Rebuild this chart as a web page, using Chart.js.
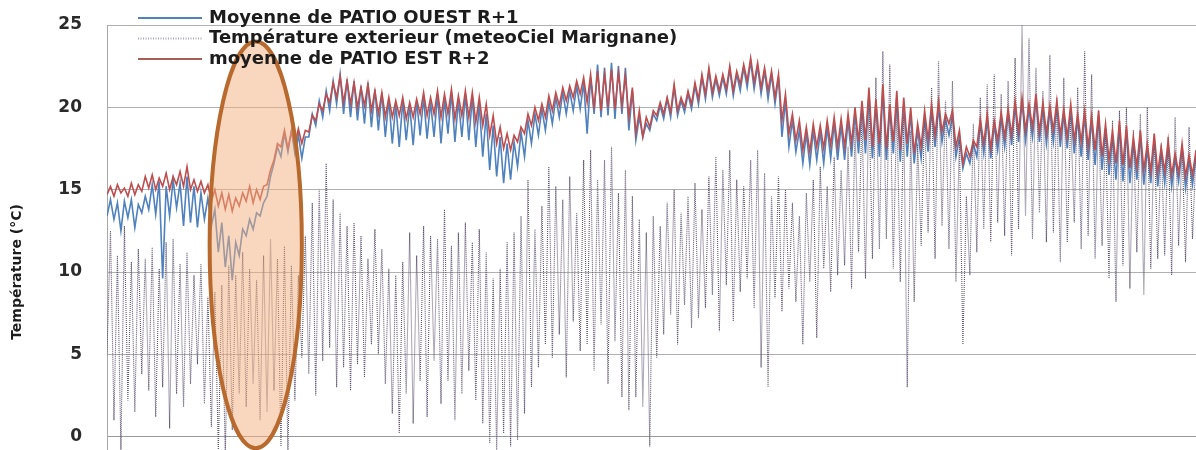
<!DOCTYPE html>
<html>
<head>
<meta charset="utf-8">
<script src="https://cdn.jsdelivr.net/npm/chart.js@4/dist/chart.umd.min.js"></script>
<style>
  html, body { margin: 0; padding: 0; background: #ffffff; overflow: hidden; }
  #wrap { position: relative; width: 1196px; height: 540px; }
</style>
</head>
<body>
<div id="wrap"><canvas id="c" width="1196" height="540"></canvas></div>
<script>
// Series names as shown in the legend
const seriesNames = [
  'Moyenne de PATIO OUEST R+1',
  'Température exterieur (meteoCiel Marignane)',
  'moyenne de PATIO EST R+2'
];

// Y axis ticks (°C)
const yTicks = [-5, 0, 5, 10, 15, 20, 25];

// PATIO OUEST R+1 : daily highs / lows (°C)
const ouestHigh = [
  14.4, 14.2, 14.3, 14.4, 14.1, 14.6, 15.3, 15.5, 15.2, 15.6,
  15.4, 15.8, 15.2, 14.8, 14.5, 13.8, 13.0, 12.2, 11.8, 12.6,
  13.2, 13.6, 14.2, 15.8, 17.6, 18.4, 18.6, 18.3, 18.2, 19.6,
  20.4, 21.0, 21.6, 22.0, 21.7, 21.6, 21.3, 21.5, 21.1, 20.9,
  20.5, 20.2, 20.4, 20.1, 20.4, 20.6, 20.3, 20.8, 20.5, 20.9,
  20.4, 20.8, 20.6, 20.2, 19.6, 18.9, 18.2, 17.8, 17.9, 18.5,
  19.2, 19.6, 19.9, 20.3, 20.6, 20.9, 21.0, 21.3, 21.5, 21.8,
  22.6, 22.4, 22.7, 22.5, 22.4, 21.0, 19.4, 19.0, 19.6, 20.1,
  20.5, 21.2, 20.4, 20.8, 21.3, 21.8, 22.2, 21.7, 21.8, 22.3,
  22.0, 22.4, 22.8, 22.5, 22.2, 22.0, 21.8, 20.4, 19.2, 18.6,
  18.4, 18.6, 18.5, 18.8, 19.0, 18.9, 19.2, 19.6, 20.0, 20.8,
  20.2, 21.0, 19.8, 20.6, 20.2, 19.6, 18.6, 19.4, 19.8, 20.0,
  19.3, 19.5, 18.2, 17.2, 17.8, 19.0, 19.3, 18.9, 19.4, 19.6,
  20.1, 20.3, 19.9, 20.5, 20.0, 19.8, 20.1, 19.6, 19.9, 19.3,
  19.5, 19.2, 19.5, 18.7, 18.3, 18.9, 18.6, 17.9, 18.3, 17.5,
  18.1, 17.3, 17.6, 16.9, 17.5, 16.8, 17.1
];
const ouestLow = [
  13.4, 13.2, 12.5, 13.3, 12.7, 13.6, 13.8, 13.5, 9.6, 13.4,
  13.9, 12.8, 13.0, 12.7, 13.2, 12.8, 11.2, 10.3, 9.5, 11.0,
  12.2, 12.6, 13.4, 14.6, 16.6, 17.0, 17.3, 17.2, 16.9, 18.2,
  18.9, 19.4, 19.8, 20.2, 19.6, 19.4, 19.2, 19.0, 18.8, 18.6,
  18.2, 17.8, 17.6, 18.0, 17.7, 18.3, 18.1, 18.2, 17.8, 18.4,
  17.9, 18.2, 18.0, 17.6, 17.0, 16.2, 15.8, 15.4, 15.6, 16.4,
  17.0, 17.8, 18.3, 18.6, 19.0, 19.4, 19.6, 19.8, 19.9, 18.4,
  19.6, 19.4, 19.5, 19.3, 19.6, 18.6, 18.0, 18.2, 18.6, 19.2,
  19.3, 19.4, 19.5, 19.7, 19.9, 20.2, 20.5, 20.6, 20.7, 20.8,
  20.7, 21.0, 21.2, 21.1, 20.8, 20.5, 20.2, 18.2, 17.6, 17.3,
  16.6, 16.5, 16.8, 16.6, 16.9, 16.8, 16.8, 17.0, 17.2, 17.2,
  16.9, 17.0, 16.8, 17.2, 16.7, 17.0, 16.6, 16.9, 17.3, 17.6,
  17.9, 18.3, 17.0, 16.3, 16.6, 17.0, 17.2, 16.9, 17.4, 17.6,
  17.7, 17.9, 18.0, 18.2, 17.9, 17.8, 17.9, 17.6, 17.5, 17.2,
  17.0, 16.8, 16.5, 16.2, 15.9, 15.6, 15.5, 15.4, 15.6, 15.3,
  15.4, 15.2, 15.4, 15.2, 15.5, 15.1, 15.3
];

// Outdoor temperature (meteoCiel Marignane) : daily highs / lows (°C)
const exterieurHigh = [
  12.5, 11.0, 12.8, 10.6, 11.4, 10.8, 11.5, 10.2, 11.8, 12.0,
  10.5, 11.2, 9.8, 10.5, 8.5, 8.8, 9.2, 10.4, 9.8, 11.2,
  10.2, 9.5, 11.0, 12.0, 10.8, 11.6, 10.4, 9.8, 12.2, 14.2,
  15.0, 16.6, 14.4, 13.6, 12.8, 13.0, 12.2, 10.8, 12.6, 11.4,
  10.2, 9.8, 10.6, 12.4, 11.0, 12.8, 12.2, 12.0, 13.8, 11.6,
  12.4, 13.0, 11.8, 12.6, 11.2, 9.6, 10.2, 11.8, 12.4, 13.4,
  15.6, 12.6, 14.0, 16.4, 15.2, 14.4, 15.8, 13.6, 16.8, 17.4,
  15.6, 16.8, 17.6, 14.8, 16.2, 14.6, 13.2, 12.4, 13.4, 12.8,
  14.2, 15.0, 13.6, 14.6, 15.4, 13.8, 15.8, 17.0, 16.2, 17.4,
  15.6, 15.2, 16.8, 17.4, 16.0, 14.6, 15.8, 15.0, 14.2, 13.4,
  14.8, 15.6, 16.4, 15.2, 17.0, 16.2, 17.6, 18.8, 19.6, 20.4,
  21.8, 23.4, 22.6, 20.2, 19.4, 18.6, 17.8, 19.6, 21.2, 22.8,
  20.4, 21.6, 18.0, 14.6, 19.0, 20.6, 21.4, 22.0, 20.8, 21.6,
  23.0, 25.0, 24.2, 22.4, 21.0, 23.2, 20.6, 21.8, 19.4, 21.2,
  23.4, 22.0, 19.8, 18.6, 19.2, 19.8, 20.0, 18.6, 19.6, 20.0,
  18.4, 17.8, 18.2, 19.4, 17.6, 18.8, 17.4
];
const exterieurLow = [
  5.0, 1.0, -0.8, 2.2, 1.5, 3.8, 2.8, 1.2, 3.0, 0.5,
  2.6, 1.8, 3.2, 4.4, 2.0, 0.6, -0.9, -1.2, 0.4, 2.6,
  1.8, 3.2, 1.0, 1.5, 2.8, -0.6, -1.0, 2.2, 4.8, 3.8,
  2.5, 4.6, 5.4, 3.0, 4.2, 2.8, 4.4, 3.6, 5.6, 5.0,
  3.2, 1.4, 0.2, 2.6, 0.8, 3.4, 1.2, 4.6, 2.0, 3.4,
  1.0, 2.6, 4.0, 2.2, 0.8, -0.4, -0.8, 0.2, -0.6, -0.2,
  1.4, 3.0, 4.2, 5.6, 4.8, 6.2, 3.6, 7.0, 5.2, 5.6,
  4.0, 6.8, 3.2, 5.8, 2.4, 1.6, 2.4, 1.8, -0.6, 4.8,
  6.2, 7.4, 5.6, 8.0, 6.6, 7.2, 7.8, 8.6, 6.4, 9.2,
  7.0, 8.8, 9.6, 7.8, 4.2, 3.0, 8.4, 7.6, 9.0, 8.2,
  5.6, 9.4, 6.0, 10.2, 8.8, 9.8, 10.4, 9.0, 11.2, 9.6,
  10.8, 11.4, 12.0, 10.2, 9.4, 3.0, 8.2, 11.6, 12.4, 10.8,
  12.8, 11.4, 9.4, 5.6, 9.8, 11.2, 12.6, 11.8, 13.0, 12.2,
  11.0, 12.6, 13.4, 12.0, 13.6, 11.8, 12.4, 10.6, 11.8, 13.0,
  11.4, 12.2, 10.8, 11.6, 9.6, 8.2, 10.4, 9.0, 11.2, 8.6,
  10.2, 10.8, 11.0, 9.8, 11.6, 10.6, 12.0
];

// PATIO EST R+2 : daily highs / lows (°C)
const estHigh = [
  15.2, 15.3, 15.1, 15.4, 15.3, 15.8, 15.9, 15.7, 16.0, 15.8,
  16.1, 16.4, 15.6, 15.5, 15.3, 15.0, 14.8, 14.7, 14.5, 14.8,
  15.2, 15.0, 15.2, 16.2, 17.8, 18.6, 18.5, 18.7, 18.6, 19.5,
  20.2, 20.8, 21.5, 21.9, 21.6, 21.5, 21.2, 21.4, 21.0, 20.9,
  20.6, 20.4, 20.6, 20.3, 20.5, 20.9, 20.6, 21.0, 20.8, 21.1,
  20.7, 21.0, 20.9, 20.6, 20.2, 19.5, 18.8, 18.4, 18.3, 18.8,
  19.6, 20.0, 20.2, 20.7, 20.9, 21.2, 21.3, 21.6, 21.8, 22.0,
  22.2, 22.0, 22.3, 22.1, 21.9, 21.2, 19.8, 19.4, 19.8, 20.3,
  20.6, 21.4, 20.6, 21.0, 21.5, 22.0, 22.4, 21.9, 22.0, 22.5,
  22.2, 22.6, 23.0, 22.7, 22.4, 22.2, 22.0, 20.8, 19.6, 19.2,
  18.8, 19.0, 18.9, 19.2, 19.4, 19.3, 19.6, 20.0, 20.4, 21.2,
  20.5, 21.4, 20.2, 21.0, 20.6, 20.0, 19.0, 19.8, 20.2, 20.4,
  19.6, 19.8, 18.6, 17.6, 18.0, 19.3, 19.6, 19.2, 19.7, 19.9,
  20.4, 20.6, 20.2, 20.8, 20.3, 20.1, 20.4, 19.9, 20.2, 19.6,
  19.8, 19.5, 19.8, 19.0, 18.6, 19.2, 18.9, 18.2, 18.6, 17.8,
  18.4, 17.6, 18.0, 17.2, 17.8, 17.1, 17.4
];
const estLow = [
  14.7, 14.6, 14.8, 14.6, 14.7, 14.9, 15.1, 15.0, 15.2, 15.0,
  15.3, 15.2, 15.0, 14.9, 14.8, 14.3, 14.0, 13.8, 13.7, 14.0,
  14.3, 14.2, 14.4, 15.3, 16.8, 17.6, 17.5, 17.7, 17.8, 18.5,
  19.2, 19.8, 20.3, 20.6, 20.3, 20.2, 20.0, 20.1, 19.8, 19.6,
  19.4, 19.4, 19.5, 19.3, 19.4, 19.6, 19.5, 19.6, 19.4, 19.6,
  19.3, 19.5, 19.4, 19.1, 18.9, 18.3, 17.8, 17.5, 17.4, 17.9,
  18.4, 18.9, 19.2, 19.4, 19.8, 20.1, 20.4, 20.6, 20.8, 20.3,
  19.9, 19.8, 20.0, 19.9, 20.1, 19.4, 18.4, 18.2, 18.8, 19.5,
  19.6, 19.7, 19.8, 20.0, 20.2, 20.5, 20.8, 20.9, 21.0, 21.1,
  21.0, 21.4, 21.6, 21.5, 21.2, 21.0, 20.6, 19.2, 18.4, 18.0,
  17.4, 17.3, 17.6, 17.5, 17.7, 17.6, 17.6, 17.8, 17.9, 18.0,
  17.6, 17.8, 17.5, 17.9, 17.4, 17.8, 17.2, 17.6, 18.0, 18.3,
  18.5, 19.0, 17.6, 16.6, 17.0, 17.6, 17.8, 17.5, 18.0, 18.2,
  18.3, 18.5, 18.6, 18.8, 18.5, 18.4, 18.6, 18.3, 18.2, 18.0,
  17.9, 17.6, 17.4, 17.0, 16.8, 16.6, 16.5, 16.3, 16.4, 16.2,
  16.1, 16.0, 16.1, 15.9, 16.0, 15.8, 15.9
];

// Highlighted period (x in half-day steps, y in °C)
const highlight = { xFrom: 29.5, xTo: 56, yFrom: -0.7, yTo: 24.0 };

const COLOR_OUEST = 'rgb(79,129,189)';
const COLOR_EXT = 'rgb(96,86,112)';
const COLOR_EST = 'rgb(190,78,78)';

// Two readings per day: night low, then afternoon high
function dailyPoints(low, high) {
  const pts = [];
  const n = Math.min(low.length, high.length);
  for (let d = 0; d < n; d++) {
    pts.push({ x: 2 * d, y: low[d] });
    pts.push({ x: 2 * d + 1, y: high[d] });
  }
  return pts;
}

const highlightPlugin = {
  id: 'highlight',
  afterDatasetsDraw(chart) {
    const { ctx, scales: { x, y } } = chart;
    const x0 = x.getPixelForValue(highlight.xFrom);
    const x1 = x.getPixelForValue(highlight.xTo);
    const y0 = y.getPixelForValue(highlight.yTo);
    const y1 = y.getPixelForValue(highlight.yFrom);
    ctx.save();
    ctx.beginPath();
    ctx.ellipse((x0 + x1) / 2, (y0 + y1) / 2, (x1 - x0) / 2, (y1 - y0) / 2, 0, 0, Math.PI * 2);
    ctx.fillStyle = 'rgba(242,175,125,0.5)';
    ctx.fill();
    ctx.lineWidth = 4;
    ctx.strokeStyle = 'rgb(184,106,46)';
    ctx.stroke();
    ctx.restore();
  }
};

const legendPlugin = {
  id: 'insideLegend',
  afterDraw(chart) {
    const { ctx, chartArea } = chart;
    const rows = [
      { color: COLOR_OUEST, dash: [] },
      { color: 'rgba(150,140,165,0.8)', dash: [1, 1.5] },
      { color: 'rgb(165,95,85)', dash: [] }
    ];
    ctx.save();
    ctx.font = 'bold 18px "DejaVu Sans"';
    ctx.textBaseline = 'middle';
    ctx.fillStyle = '#1c1c1c';
    rows.forEach((r, i) => {
      const yy = 18 + i * 20.5;
      ctx.beginPath();
      ctx.setLineDash(r.dash);
      ctx.lineWidth = 1.8;
      ctx.strokeStyle = r.color;
      ctx.moveTo(chartArea.left + 31, yy);
      ctx.lineTo(chartArea.left + 95, yy);
      ctx.stroke();
      ctx.setLineDash([]);
      ctx.fillText(seriesNames[i], chartArea.left + 102, yy);
    });
    ctx.restore();
  }
};

new Chart(document.getElementById('c'), {
  type: 'line',
  data: {
    datasets: [
      {
        label: seriesNames[2],
        data: dailyPoints(estLow, estHigh),
        borderColor: COLOR_EST,
        borderWidth: 1.6,
        pointRadius: 0,
        tension: 0,
        order: 1
      },
      {
        label: seriesNames[1],
        data: dailyPoints(exterieurLow, exterieurHigh),
        borderColor: COLOR_EXT,
        borderWidth: 1.1,
        borderDash: [1, 1],
        pointRadius: 0,
        tension: 0,
        order: 2
      },
      {
        label: seriesNames[0],
        data: dailyPoints(ouestLow, ouestHigh),
        borderColor: COLOR_OUEST,
        borderWidth: 1.6,
        pointRadius: 0,
        tension: 0,
        order: 3
      }
    ]
  },
  options: {
    responsive: false,
    animation: false,
    devicePixelRatio: 1,
    layout: { padding: { top: 25, right: 0, bottom: 21, left: 0 } },
    plugins: { legend: { display: false }, tooltip: { enabled: false } },
    scales: {
      x: {
        type: 'linear',
        display: false,
        min: 0,
        max: 2 * ouestHigh.length - 1
      },
      y: {
        min: yTicks[0],
        max: yTicks[yTicks.length - 1],
        afterBuildTicks(scale) { scale.ticks = yTicks.map(v => ({ value: v })); },
        afterFit(scale) { scale.width = 107; },
        grid: {
          drawTicks: true,
          tickLength: 25,
          tickColor: 'rgba(0,0,0,0)',
          color: ctx => (ctx.tick && ctx.tick.value === 0 ? '#9a9a9a' : '#b0b0b0'),
          lineWidth: 1
        },
        border: { display: true, color: '#a8a8a8', width: 1 },
        ticks: {
          padding: 0,
          color: '#2a2a2a',
          font: { family: '"DejaVu Sans"', size: 17, weight: 'bold' }
        },
        title: {
          display: true,
          text: 'Température (°C)',
          color: '#1c1c1c',
          padding: { top: 9, bottom: 0 },
          font: { family: '"DejaVu Sans"', size: 14, weight: 'bold' }
        }
      }
    }
  },
  plugins: [highlightPlugin, legendPlugin]
});
</script>
</body>
</html>
